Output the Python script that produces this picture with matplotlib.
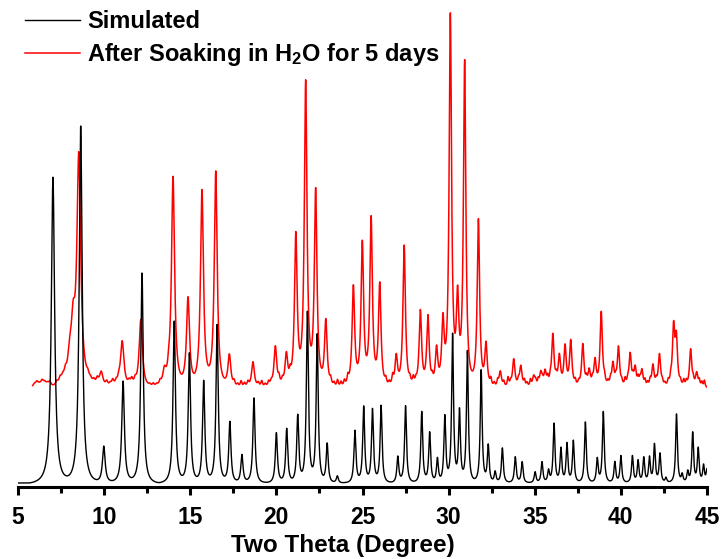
import numpy as np
import matplotlib
matplotlib.use("Agg")
import matplotlib.pyplot as plt

# ---- data (2θ in degrees, intensities in arbitrary units) ----
sim_pos = [7.03, 8.64, 9.98, 11.10, 12.20, 14.07, 14.95, 15.78, 16.56, 17.30, 18.00, 18.70,
           20.00, 20.60, 21.24, 21.80, 22.37, 22.95, 23.54, 24.56, 25.07, 25.58, 26.08, 27.05,
           27.50, 28.44, 28.90, 29.35, 29.78, 30.23, 30.63, 31.09, 31.89, 32.30, 32.70, 33.12,
           33.87, 34.27, 35.02, 35.42, 35.80, 36.12, 36.52, 36.87, 37.24, 37.94, 38.63, 38.98,
           39.65, 40.00, 40.67, 41.00, 41.33, 41.66, 41.95, 42.27, 42.62, 43.23, 43.56, 43.88,
           44.17, 44.49, 44.80, 45.00]
sim_int = [306, 357, 37, 102, 210, 162, 130, 102, 158, 61, 28, 85,
           50, 54, 67, 170, 148, 39, 7, 52, 76, 73, 77, 26,
           77, 71, 50, 24, 66, 148, 71, 132, 113, 37, 11, 35,
           26, 21, 11, 21, 12, 59, 34, 39, 42, 61, 24, 71,
           21, 27, 27, 22, 25, 25, 38, 29, 5, 69, 8, 11,
           50, 34, 17, 13]

soak_pos = [8.00, 8.20, 8.53, 9.83, 11.05, 12.13, 13.50, 14.00, 14.87, 15.68, 16.48, 17.27,
            18.64, 19.94, 20.58, 21.13, 21.70, 22.28, 22.87, 24.47, 24.99, 25.50, 26.00, 26.96,
            27.42, 28.36, 28.80, 29.30, 29.67, 30.10, 30.52, 30.93, 31.73, 32.17, 33.00, 33.78,
            34.19, 34.94, 35.35, 35.60, 36.05, 36.43, 36.76, 37.09, 37.79, 38.16, 38.50, 38.86,
            39.54, 39.86, 40.54, 40.83, 41.22, 41.86, 42.24, 43.06, 43.22, 44.05, 44.40]
soak_int = [22, 50, 228, 15, 46, 68, 14, 210, 88, 196, 215, 32,
            26, 41, 32, 150, 302, 194, 66, 100, 142, 167, 102, 30,
            142, 76, 70, 37, 62, 370, 80, 324, 167, 42, 16, 28,
            21, 11, 14, 15, 52, 30, 40, 46, 43, 16, 26, 75,
            23, 40, 33, 19, 17, 22, 33, 58, 46, 38, 14]
# small wiggles of the measured trace
soak_noise_pos = [5.95, 6.10, 6.25, 6.40, 6.55, 6.70, 6.85, 7.25, 7.45, 7.60, 7.75,
                  9.05, 9.20, 9.40, 9.60, 10.15, 10.35, 10.50, 10.70, 10.85, 11.45, 11.60, 11.80,
                  12.65, 12.85, 13.05, 13.25, 13.75,
                  17.55, 17.75, 17.95, 18.15, 18.35, 18.95, 19.15, 19.35, 19.55, 19.70, 20.15,
                  20.35, 20.80,
                  23.15, 23.35, 23.55, 23.75, 23.95, 24.15,
                  26.35, 26.55, 26.75, 27.75, 27.95, 28.10, 29.05,
                  32.45, 32.65, 32.85, 33.20, 33.45, 33.60, 34.05, 34.40, 34.55, 34.75, 35.05,
                  35.20, 35.45, 35.75, 35.90,
                  36.25, 37.35, 37.55, 38.00, 38.35, 39.05, 39.25, 39.40, 39.70, 40.05, 40.25,
                  40.40, 40.70, 41.00, 41.10, 41.40, 41.55, 41.70, 42.05, 42.40, 42.55, 42.75,
                  42.90, 43.45, 43.65, 43.80, 44.20, 44.55, 44.70, 44.85]
soak_noise_int = [3, 5, 2, 6, 4, 3, 5, 4, 6, 5, 8,
                  5, 3, 4, 6, 5, 3, 6, 4, 5, 4, 6, 5,
                  2, 3, 2, 4, 8,
                  5, 3, 6, 4, 5, 4, 6, 3, 5, 4, 7,
                  5, 8,
                  6, 4, 7, 5, 6, 8,
                  6, 4, 9, 5, 7, 4, 6,
                  7, 4, 6, 5, 9, 4, 5, 6, 4, 7, 5,
                  6, 4, 7, 5,
                  6, 5, 4, 6, 5, 6, 4, 6, 5, 4, 7,
                  5, 6, 7, 5, 6, 4, 6, 5, 4, 3, 5,
                  6, 4, 6, 5, 5, 6, 5, 7]
soak_offset = 95
soak_start = 5.85

xticks = [5, 10, 15, 20, 25, 30, 35, 40, 45]
labels = ["Simulated", "After Soaking in H$_2$O for 5 days"]


def profile(x, pos, inten, scale=1.0):
    y = np.zeros_like(x)
    for p, h in zip(pos, inten):
        w = scale * (0.05 + 0.45 / p)
        c = 12 * w
        L = w ** 2 / ((x - p) ** 2 + w ** 2)
        Lc = w ** 2 / (c ** 2 + w ** 2)
        y += h * np.clip((L - Lc) / (1 - Lc), 0, None)
    return y


plt.rcParams['font.family'] = ['Liberation Sans', 'DejaVu Sans']
plt.rcParams['font.weight'] = 'bold'
plt.rcParams['mathtext.fontset'] = 'custom'
plt.rcParams['mathtext.rm'] = 'Liberation Sans:bold'
plt.rcParams['mathtext.it'] = 'Liberation Sans:bold'
plt.rcParams['mathtext.bf'] = 'Liberation Sans:bold'
plt.rcParams['mathtext.default'] = 'bf'

fig = plt.figure(figsize=(7.22, 5.59), dpi=100)
ax = fig.add_axes([18 / 722, 72 / 559, (707 - 18) / 722, 487 / 559])

x_sim = np.linspace(5, 45, 6001)
y_sim = profile(x_sim, sim_pos, sim_int)
x_soak = np.linspace(soak_start, 45, 6001)
y_soak = (profile(x_soak, soak_pos, soak_int, 1.3)
          + profile(x_soak, soak_noise_pos, soak_noise_int, 0.8) + soak_offset)

ax.plot(x_soak, y_soak, color='#ff0000', lw=1.1, label=labels[1], zorder=2)
ax.plot(x_sim, y_sim, color='black', lw=1.0, label=labels[0], zorder=3)

ax.set_xlim(5, 45)
ax.set_ylim(-4, 483)
ax.set_yticks([])
for s in ['left', 'right', 'top']:
    ax.spines[s].set_visible(False)
ax.spines['bottom'].set_linewidth(2.2)
ax.set_xticks(xticks)
ax.set_xticklabels([str(t) for t in xticks])
ax.set_xticks(np.arange(7.5, 45, 5), minor=True)
ax.tick_params(axis='x', which='major', length=5.5, width=2.2, direction='out',
               labelsize=16.5, pad=8)
ax.tick_params(axis='x', which='minor', length=4, width=2.2, direction='out')
ax.set_xlabel("Two Theta (Degree)", fontsize=17.5, fontweight='bold')
ax.xaxis.set_label_coords(0.471, -0.096)

h, l = ax.get_legend_handles_labels()
ax.legend(h[::-1], l[::-1], loc='upper left', bbox_to_anchor=(0.0102, 0.979), frameon=False,
          fontsize=17, handlelength=2.33, handletextpad=0.3, labelspacing=0.32,
          borderaxespad=0, borderpad=0)

fig.savefig("out.png", dpi=100)
